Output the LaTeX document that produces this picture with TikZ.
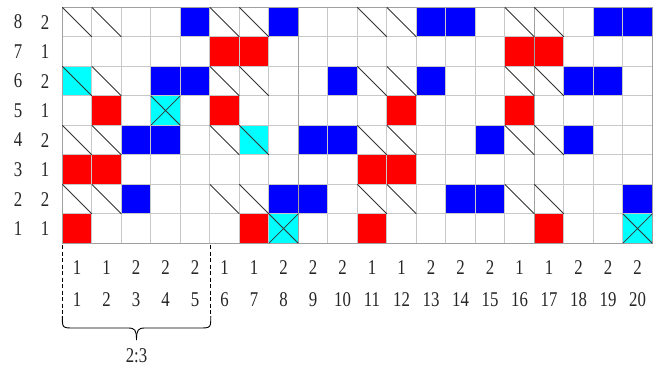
\documentclass[tikz,border=0pt]{standalone}
\usepackage{fontspec}
\setmainfont{Liberation Serif}
\newfontfamily\digitfont[FakeStretch=0.8]{Liberation Serif}
\definecolor{cred}{HTML}{FF0000}
\definecolor{cblue}{HTML}{0000FF}
\definecolor{ccyan}{HTML}{00FFFF}
\definecolor{gridlt}{HTML}{C8C8C8}
\definecolor{griddk}{HTML}{A0A0A0}
\begin{document}
\begin{tikzpicture}[x=1pt,y=-1pt,
  lbl/.style={font=\digitfont\fontsize{21}{22}\selectfont, inner sep=0pt, text=black!85},
  diagline/.style={draw=black!80, line width=0.8pt},
  gridline/.style={draw=gridlt, line width=1.2pt},
  gridmajor/.style={draw=griddk, line width=1.2pt},
  brace/.style={draw=black, line width=0.9pt}]
\useasboundingbox (0,0) rectangle (661,369);
\fill[white] (0,0) rectangle (661,369);
\def\L{62.3}\def\T{7.3}\def\S{29.5}
% fills
\foreach \c/\r in {6/7,7/7,16/7,17/7,2/5,6/5,12/5,16/5,1/3,2/3,11/3,12/3,1/1,7/1,11/1,17/1}
  \fill[cred] ({\L+(\c-1)*\S},{\T+(8-\r)*\S}) rectangle ++(\S,\S);
\foreach \c/\r in {5/8,8/8,13/8,14/8,19/8,20/8,4/6,5/6,10/6,13/6,18/6,19/6,3/4,4/4,9/4,10/4,15/4,18/4,3/2,8/2,9/2,14/2,15/2,20/2}
  \fill[cblue] ({\L+(\c-1)*\S},{\T+(8-\r)*\S}) rectangle ++(\S,\S);
\foreach \c/\r in {1/6,4/5,7/4,8/1,20/1}
  \fill[ccyan] ({\L+(\c-1)*\S},{\T+(8-\r)*\S}) rectangle ++(\S,\S);
% grid
\foreach \i in {1,...,7}
  \draw[gridline] (\L,{\T+\i*\S}) -- ({\L+20*\S},{\T+\i*\S});
\foreach \i in {1,...,19}
  \draw[gridline] ({\L+\i*\S},\T) -- ({\L+\i*\S},{\T+8*\S});
\foreach \i in {8,16}
  \draw[gridmajor] ({\L+\i*\S},\T) -- ({\L+\i*\S},{\T+8*\S});
\draw[gridmajor] (\L,\T) rectangle ({\L+20*\S},{\T+8*\S});
% diagonals
\foreach \r in {8,6,4,2}
  \foreach \c in {1,2,6,7,11,12,16,17}
    \draw[diagline] ({\L+(\c-1)*\S},{\T+(8-\r)*\S}) -- ++(\S,\S);
\foreach \c/\r in {4/5,8/1,20/1}{
  \draw[diagline] ({\L+(\c-1)*\S},{\T+(8-\r)*\S}) -- ++(\S,\S);
  \draw[diagline] ({\L+\c*\S},{\T+(8-\r)*\S}) -- ++(-\S,\S);
}
% left labels
\foreach \r/\v in {8/2,7/1,6/2,5/1,4/2,3/1,2/2,1/1}{
  \node[lbl] (ra\r) at (18,{\T+(8-\r+0.5)*\S}) {\r};
  \node[lbl] (rb\r) at (45,{\T+(8-\r+0.5)*\S}) {\v};
}
% bottom labels
\foreach \c/\v in {1/1,2/1,3/2,4/2,5/2,6/1,7/1,8/2,9/2,10/2,11/1,12/1,13/2,14/2,15/2,16/1,17/1,18/2,19/2,20/2}{
  \node[lbl] (ca\c) at ({\L+(\c-0.5)*\S},268) {\v};
  \node[lbl] (cb\c) at ({\L+(\c-0.5)*\S},300) {\c};
}
% bracket
\coordinate (bl) at (62.3,245);
\coordinate (br) at (210.8,245);
\draw[brace, dashed, dash pattern=on 4pt off 2.5pt] (bl) -- (62.3,316);
\draw[brace, dashed, dash pattern=on 4pt off 2.5pt] (br) -- (210.8,316);
\draw[brace] (62.3,316) .. controls (62.3,328) .. (74,328) -- (128,328)
  .. controls (135,328) and (136.5,330) .. (136.5,340);
\draw[brace] (210.8,316) .. controls (210.8,328) .. (199,328) -- (145,328)
  .. controls (138,328) and (136.5,330) .. (136.5,340);
\node[lbl] (ratio) at (136.5,356) {2:3};
\end{tikzpicture}
\end{document}
